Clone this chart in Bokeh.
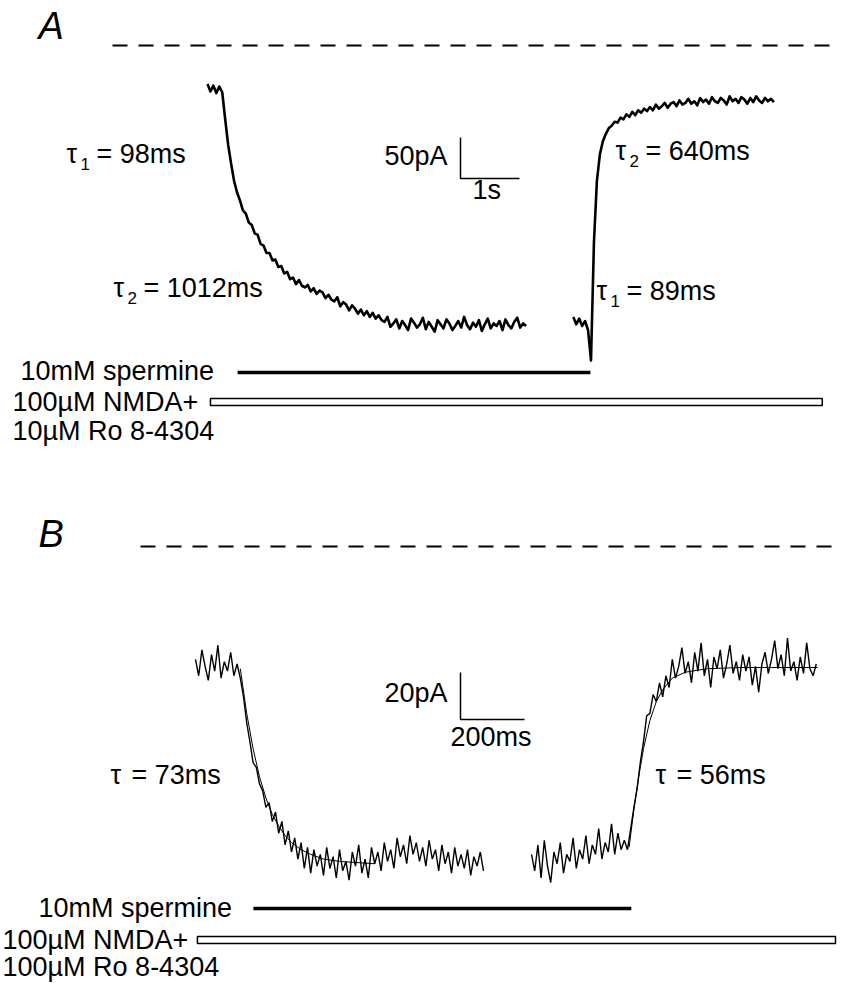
from bokeh.plotting import figure
from bokeh.models import Range1d, Label
from bokeh.embed import file_html
from bokeh.resources import INLINE

# ---------------- data ----------------
# Panel A : whole-cell current (pA) sampled every 0.05 s
A_DT = 0.05
A_SEG1_T0 = 0.0
A_SEG1 = [-47, -56, -49, -58, -50, -57,
          -90, -121, -144, -165, -179, -189, -201,
          -205, -216, -219, -229, -231, -242, -244, -253, -253, -262, -261, -270, -269, -278, -276, -285, -283,
          -291, -286, -293, -295, -292, -300, -296, -303, -299, -301, -308, -304, -310, -312, -307, -318,
          -313, -316, -323, -317, -321, -327, -322, -329, -324, -331, -326, -333, -329, -335,
          -337, -331, -343, -339, -334, -345, -336, -341, -347, -333, -338, -344, -340, -332, -346, -337,
          -343, -349, -335, -340, -345, -334, -339, -347, -342, -336, -344, -331, -341, -346, -338, -343,
          -335, -348, -340, -333, -345, -339, -342, -336, -347, -334, -341, -345, -337, -332, -344, -339, -342]
A_SEG2_T0 = 6.20
A_SEG2 = [-331, -340, -333, -342, -336, -347, -384, -240, -165, -133, -117, -108, -101, -98, -93, -94,
          -88, -90, -84, -87,
          -81, -85, -79, -82, -77, -80, -75, -79, -72, -77, -74, -70, -76, -71, -69, -74, -67, -72, -70,
          -65, -71, -68, -73, -64, -69, -66, -71, -63, -68, -70, -64, -67, -72, -62, -68, -65, -70, -63,
          -66, -71, -64, -69, -62, -67, -70, -64, -68, -65, -69]
A_SPERMINE = (0.51, 6.49)      # s
A_NMDA = (0.05, 10.42)         # s
A_SCALE_PA = 50
A_SCALE_S = 1

# Panel B : current (pA) sampled every 10 ms
B_DT = 10
B_SEG1_T0 = 0
B_SEG1 = [-48, -55, -44, -51, -57, -46, -53, -42, -56, -49, -53, -45, -55, -50, -56, -64, -75, -83,
          -92, -94, -101, -104, -111, -109, -117, -113, -122, -117, -127, -121, -130, -124, -133, -126,
          -137, -128, -139, -129, -136, -131, -140, -128, -137, -132, -141, -129, -138, -134, -142, -130,
          -136, -127, -139, -133, -141, -128, -135, -130, -138, -126, -134, -129, -137, -124, -132, -127,
          -135, -123, -131, -126, -134, -128, -136, -125, -133, -129, -138, -127, -135, -130, -139, -128,
          -136, -131, -137, -129, -140, -132, -136, -130, -138]
B_SEG2_T0 = 1050
B_SEG2 = [-131, -138, -127, -141, -125, -136, -143, -130, -135, -126, -139, -131, -134, -124, -137,
          -129, -133, -123, -135, -127, -131, -120, -133, -126, -130, -118, -131, -122, -129, -125, -129,
          -120, -111, -103, -92, -83, -72, -71, -63, -66, -58, -64, -55, -60, -48, -56, -51, -43, -54,
          -49, -58, -45, -53, -41, -55, -48, -60, -47, -52, -44, -56, -50, -42, -54, -49, -57, -46, -53,
          -47, -59, -51, -62, -50, -45, -54, -48, -40, -52, -46, -55, -39, -53, -49, -57, -47, -54, -41,
          -52, -55, -50]
B_FIT1_T = [140, 160, 180, 200, 220, 240, 260, 280, 300, 330, 360, 400, 450, 560]
B_FIT1_I = [-52, -71, -86, -98, -107, -114, -119, -123, -126, -129, -131, -133, -134, -135]
B_FIT2_T = [1355, 1370, 1385, 1400, 1420, 1440, 1460, 1490, 1530, 1600, 1700, 1800, 1944]
B_FIT2_I = [-128, -112, -98, -86, -74, -66, -61, -56, -53.5, -52, -51.5, -51.5, -51.5]
B_SPERMINE = (181, 1362)       # ms
B_NMDA = (6, 2000)             # ms
B_SCALE_PA = 20
B_SCALE_MS = 200

# ---------------- layout helpers (page pixel -> panel units) ----------------
W, H = 842, 982
def ax(px): return (px - 207) / 59.0
def ay(py): return -(py - 45) / 0.82
def bx(px): return (px - 195) / 0.32
def by(py): return -(py - 546) / 2.35

p = figure(width=W, height=H, output_backend="svg", toolbar_location=None,
           x_axis_type=None, y_axis_type=None, min_border=0,
           x_range=Range1d(ax(0), ax(W)), y_range=Range1d(ay(H), ay(0)))
p.outline_line_color = None
p.background_fill_color = "white"
p.border_fill_color = "white"
p.grid.visible = False
p.extra_x_ranges = {"bx": Range1d(bx(0), bx(W))}
p.extra_y_ranges = {"by": Range1d(by(H), by(0))}
B = dict(x_range_name="bx", y_range_name="by")

FONT = "Liberation Sans"

def lab(text, x_px, base_px, panel="A", size=27, align="left", style="normal"):
    fx = ax if panel == "A" else bx
    fy = ay if panel == "A" else by
    kw = {} if panel == "A" else B
    y_px = base_px - 0.37 * size   # renderer places the glyph box lower than the baseline
    p.add_layout(Label(x=fx(x_px), y=fy(y_px), text=text, text_font=FONT,
                       text_font_size=f"{size}px", text_align=align,
                       text_baseline="alphabetic", text_font_style=style,
                       text_color="black", **kw))

def tau(x_px, base_px, sub, rest, panel="A"):
    lab("\u03c4", x_px, base_px, panel)
    if sub:
        lab(sub, x_px + 14, base_px + 7, panel, size=17)
        lab(rest, x_px + 30, base_px, panel)
    else:
        lab(rest, x_px + 21, base_px, panel)

# ---------------- panel A ----------------
tA1 = [A_SEG1_T0 + A_DT * i for i in range(len(A_SEG1))]
tA2 = [A_SEG2_T0 + A_DT * i for i in range(len(A_SEG2))]
p.line(tA1, A_SEG1, line_color="black", line_width=2.6, line_join="round")
p.line(tA2, A_SEG2, line_color="black", line_width=2.6, line_join="round")
p.line([ax(112), ax(830)], [0, 0], line_color="black", line_width=2, line_dash="15 11")
p.line(list(A_SPERMINE), [ay(372)] * 2, line_color="black", line_width=3.5)
p.quad(left=A_NMDA[0], right=A_NMDA[1], top=ay(398), bottom=ay(405),
       fill_color="white", line_color="black", line_width=1.5)
sxA, syA = ax(460), ay(137)
p.line([sxA, sxA, sxA + A_SCALE_S], [syA, syA - A_SCALE_PA, syA - A_SCALE_PA],
       line_color="black", line_width=1.5)

lab("A", 38, 40, size=38, style="italic")
tau(66, 163, "1", "= 98ms")
tau(113, 297, "2", "= 1012ms")
tau(615, 160, "2", "= 640ms")
tau(596, 300, "1", "= 89ms")
lab("50pA", 447, 165, align="right")
lab("1s", 472, 199)
lab("10mM spermine", 20, 380)
lab("100\u00b5M NMDA+", 12, 411)
lab("10\u00b5M Ro 8-4304", 12, 440)

# ---------------- panel B ----------------
tB1 = [B_SEG1_T0 + B_DT * i for i in range(len(B_SEG1))]
tB2 = [B_SEG2_T0 + B_DT * i for i in range(len(B_SEG2))]
p.line(tB1, B_SEG1, line_color="black", line_width=1.4, **B)
p.line(tB2, B_SEG2, line_color="black", line_width=1.4, **B)
p.line(B_FIT1_T, B_FIT1_I, line_color="black", line_width=1, **B)
p.line(B_FIT2_T, B_FIT2_I, line_color="black", line_width=1, **B)
p.line([bx(140), bx(842)], [0, 0], line_color="black", line_width=2, line_dash="15 11", **B)
p.line(list(B_SPERMINE), [by(908)] * 2, line_color="black", line_width=3.5, **B)
p.quad(left=B_NMDA[0], right=B_NMDA[1], top=by(936), bottom=by(943),
       fill_color="white", line_color="black", line_width=1.5, **B)
sxB, syB = bx(460), by(672)
p.line([sxB, sxB, sxB + B_SCALE_MS], [syB, syB - B_SCALE_PA, syB - B_SCALE_PA],
       line_color="black", line_width=1.5, **B)

lab("B", 38, 548, panel="B", size=38, style="italic")
lab("20pA", 447, 702, panel="B", align="right")
lab("200ms", 450, 746, panel="B")
tau(110, 784, "", "= 73ms", panel="B")
tau(655, 784, "", "= 56ms", panel="B")
lab("10mM spermine", 38, 917, panel="B")
lab("100\u00b5M NMDA+", 2, 949, panel="B")
lab("100\u00b5M Ro 8-4304", 2, 976, panel="B")

open("out.html", "w").write(file_html(p, INLINE))
